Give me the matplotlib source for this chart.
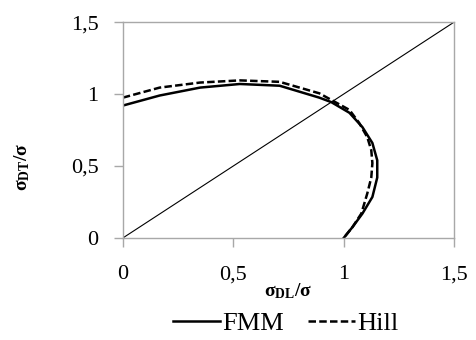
import numpy as np
import matplotlib.pyplot as plt

plt.rcParams['font.family'] = ['Liberation Serif', 'DejaVu Serif']
plt.rcParams['mathtext.fontset'] = 'custom'
plt.rcParams['mathtext.rm'] = 'Liberation Serif'
plt.rcParams['mathtext.bf'] = 'Liberation Serif:bold'
plt.rcParams['mathtext.it'] = 'Liberation Serif:italic'

# FMM yield curve (sigma_DL/sigma, sigma_DT/sigma)
fmm_x = [0.0, 0.167, 0.35, 0.53, 0.71, 0.89, 0.944, 1.026, 1.085, 1.13, 1.152, 1.152, 1.13, 1.085, 1.04, 1.0]
fmm_y = [0.92, 0.99, 1.045, 1.07, 1.058, 0.975, 0.944, 0.87, 0.77, 0.66, 0.54, 0.42, 0.285, 0.17, 0.076, 0.0]

# Hill yield curve
hill_x = [0.0, 0.167, 0.35, 0.53, 0.71, 0.89, 1.026, 1.07, 1.107, 1.125, 1.13, 1.125, 1.107, 1.08, 1.04, 1.0]
hill_y = [0.975, 1.045, 1.08, 1.095, 1.085, 1.005, 0.89, 0.80, 0.70, 0.61, 0.52, 0.42, 0.31, 0.17, 0.076, 0.0]

diag = [0, 1.5]
ticks = [0, 0.5, 1, 1.5]
tick_labels = ['0', '0,5', '1', '1,5']

fig = plt.figure(figsize=(4.76, 3.4), dpi=100)
ax = fig.add_axes([0.258, 0.30, 0.696, 0.635])

ax.plot(diag, diag, color='black', linewidth=0.8)
ax.plot(fmm_x, fmm_y, color='black', linewidth=1.8, label='FMM',
        solid_joinstyle='round')
ax.plot(hill_x, hill_y, color='black', linewidth=1.8, linestyle=(0, (3, 1.3)),
        label='Hill', dash_joinstyle='round')

ax.set_xlim(0, 1.5)
ax.set_ylim(0, 1.5)
ax.set_xticks(ticks)
ax.set_xticklabels(tick_labels)
ax.set_yticks(ticks)
ax.set_yticklabels(tick_labels)
ax.tick_params(axis='both', labelsize=16, color='#a8a8a8', length=6.5, width=1)
ax.tick_params(axis='x', pad=13)
ax.tick_params(axis='y', pad=11)
for s in ax.spines.values():
    s.set_color('#a8a8a8')
    s.set_linewidth(1)

ax.set_xlabel(r'$\mathbf{\sigma_{DL}/\sigma}$', fontsize=14, labelpad=-2)
ax.set_ylabel(r'$\mathbf{\sigma_{DT}/\sigma}$', fontsize=14)
ax.yaxis.set_label_coords(-0.275, 0.33)

fig.legend(loc='lower center', bbox_to_anchor=(0.6, -0.055), ncol=2, frameon=False,
           fontsize=19, handlelength=1.8, handletextpad=0.08, columnspacing=0.9)

fig.savefig('out.png', dpi=100)
